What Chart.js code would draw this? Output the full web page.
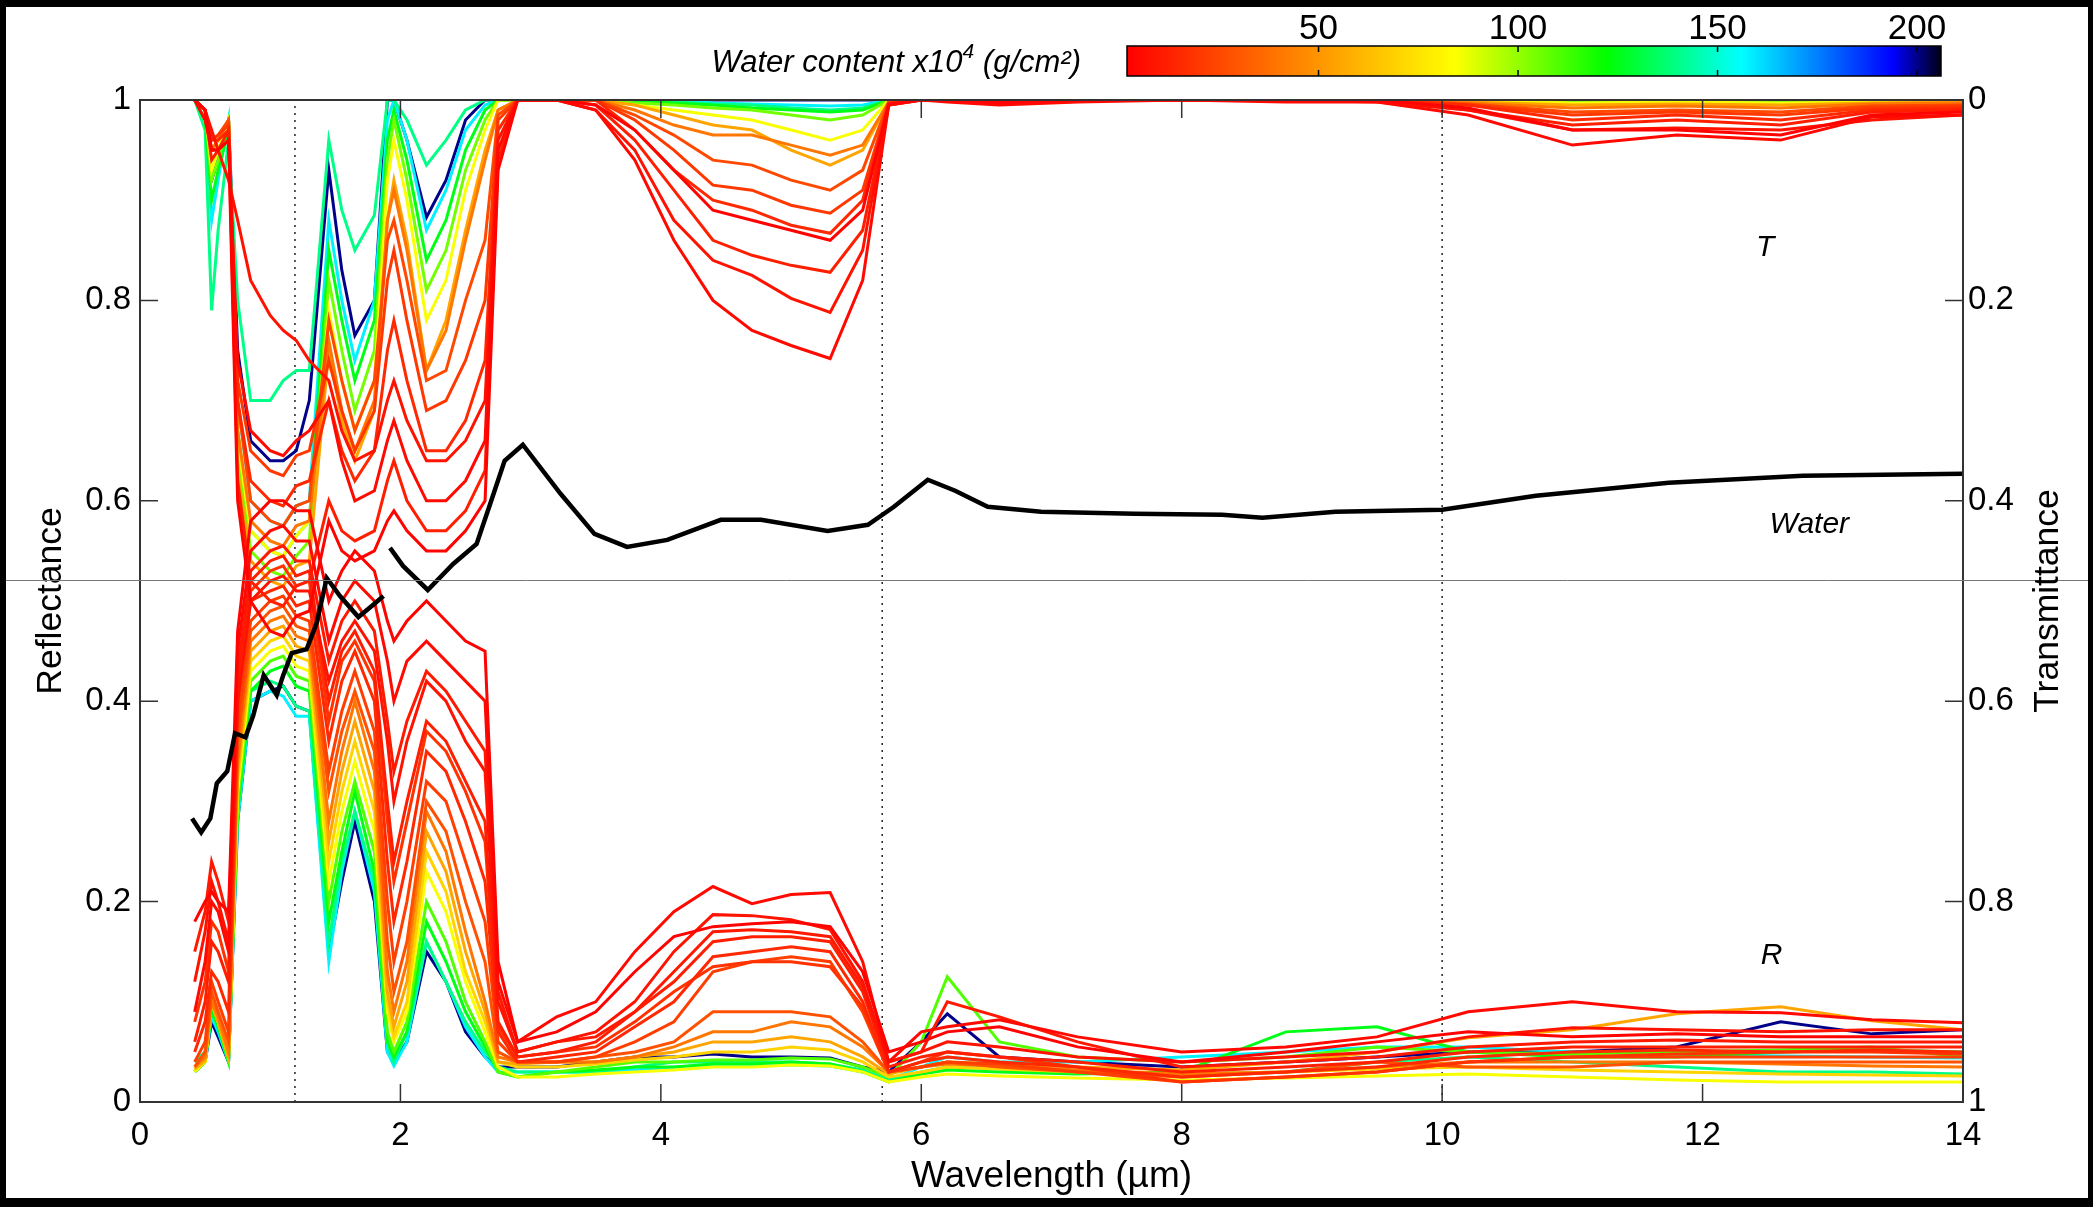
<!DOCTYPE html>
<html>
<head>
<meta charset="utf-8">
<script src="https://cdn.jsdelivr.net/npm/chart.js@4.4.1/dist/chart.umd.min.js"></script>
<style>
  html, body { margin: 0; padding: 0; background: #000; }
  #wrap { width: 2093px; height: 1207px; }
</style>
</head>
<body>
<div id="wrap"><canvas id="chart" width="2093" height="1207"></canvas></div>
<script>
// wavelength grid (µm) shared by all leaf spectra
const wavelength = [0.42, 0.5, 0.55, 0.6, 0.68, 0.75, 0.85, 1.0, 1.1, 1.2,
  1.3, 1.45, 1.55, 1.65, 1.8, 1.9, 1.95, 2.05, 2.2, 2.35,
  2.5, 2.65, 2.75, 2.9, 3.2, 3.5, 3.8, 4.1, 4.4, 4.7,
  5.0, 5.3, 5.55, 5.75, 6.0, 6.2, 6.6, 7.2, 8, 8.8,
  9.5, 10.2, 11, 11.8, 12.6, 13.3, 14];

// reflectance spectra, named by water content (x10^4 g/cm²)
const rW3 = [0.18, 0.20, 0.21, 0.20, 0.19, 0.47, 0.58, 0.60, 0.60, 0.59,
  0.59, 0.50, 0.53, 0.55, 0.53, 0.48, 0.46, 0.48, 0.50, 0.48,
  0.46, 0.45, 0.14, 0.06, 0.07, 0.09, 0.13, 0.165, 0.175, 0.178,
  0.18, 0.175, 0.13, 0.05, 0.06, 0.07, 0.075, 0.055, 0.04, 0.05,
  0.06, 0.07, 0.065, 0.068, 0.065, 0.065, 0.065];
const rW5 = [0.09, 0.14, 0.20, 0.19, 0.15, 0.45, 0.55, 0.57, 0.575, 0.56,
  0.56, 0.46, 0.50, 0.52, 0.50, 0.44, 0.40, 0.44, 0.46, 0.44,
  0.42, 0.40, 0.12, 0.06, 0.085, 0.10, 0.15, 0.19, 0.215, 0.198,
  0.207, 0.209, 0.14, 0.04, 0.07, 0.075, 0.082, 0.065, 0.05, 0.055,
  0.065, 0.09, 0.10, 0.09, 0.089, 0.082, 0.079];
const rW8 = [0.12, 0.17, 0.22, 0.20, 0.16, 0.40, 0.50, 0.52, 0.525, 0.51,
  0.51, 0.42, 0.46, 0.48, 0.45, 0.36, 0.30, 0.36, 0.42, 0.40,
  0.36, 0.33, 0.10, 0.05, 0.06, 0.07, 0.10, 0.15, 0.187, 0.186,
  0.182, 0.172, 0.12, 0.04, 0.05, 0.06, 0.055, 0.045, 0.04, 0.045,
  0.05, 0.065, 0.074, 0.072, 0.07, 0.072, 0.072];
const rW10 = [0.15, 0.19, 0.24, 0.22, 0.18, 0.43, 0.53, 0.55, 0.555, 0.54,
  0.54, 0.44, 0.48, 0.50, 0.47, 0.38, 0.33, 0.38, 0.43, 0.41,
  0.38, 0.35, 0.11, 0.05, 0.06, 0.065, 0.09, 0.13, 0.17, 0.172,
  0.17, 0.165, 0.115, 0.04, 0.05, 0.10, 0.085, 0.06, 0.035, 0.04,
  0.045, 0.055, 0.06, 0.062, 0.06, 0.06, 0.06];
const rW12 = [0.06, 0.10, 0.16, 0.15, 0.12, 0.42, 0.52, 0.54, 0.545, 0.525,
  0.53, 0.40, 0.45, 0.47, 0.43, 0.30, 0.24, 0.30, 0.38, 0.36,
  0.32, 0.28, 0.08, 0.045, 0.05, 0.06, 0.09, 0.12, 0.16, 0.165,
  0.165, 0.16, 0.11, 0.035, 0.045, 0.05, 0.045, 0.04, 0.03, 0.035,
  0.04, 0.05, 0.055, 0.055, 0.055, 0.055, 0.055];
const rW15 = [0.05, 0.08, 0.13, 0.12, 0.09, 0.40, 0.50, 0.51, 0.515, 0.495,
  0.50, 0.36, 0.42, 0.45, 0.40, 0.24, 0.18, 0.24, 0.35, 0.33,
  0.28, 0.22, 0.07, 0.04, 0.045, 0.05, 0.075, 0.10, 0.145, 0.15,
  0.155, 0.15, 0.10, 0.03, 0.04, 0.045, 0.04, 0.035, 0.025, 0.03,
  0.035, 0.045, 0.05, 0.052, 0.05, 0.052, 0.05];
const rW18 = [0.08, 0.12, 0.18, 0.17, 0.13, 0.41, 0.51, 0.53, 0.535, 0.515,
  0.52, 0.38, 0.44, 0.46, 0.42, 0.28, 0.22, 0.28, 0.37, 0.35,
  0.31, 0.26, 0.075, 0.045, 0.05, 0.055, 0.08, 0.11, 0.135, 0.14,
  0.14, 0.135, 0.095, 0.03, 0.04, 0.05, 0.045, 0.035, 0.02, 0.025,
  0.03, 0.04, 0.045, 0.048, 0.05, 0.05, 0.048];
const rW22 = [0.04, 0.06, 0.12, 0.10, 0.07, 0.38, 0.48, 0.50, 0.505, 0.485,
  0.48, 0.33, 0.39, 0.43, 0.37, 0.20, 0.14, 0.20, 0.32, 0.30,
  0.24, 0.18, 0.06, 0.04, 0.04, 0.045, 0.06, 0.08, 0.13, 0.14,
  0.145, 0.14, 0.09, 0.03, 0.035, 0.04, 0.038, 0.03, 0.02, 0.025,
  0.03, 0.04, 0.045, 0.045, 0.045, 0.045, 0.045];
const rW28 = [0.035, 0.05, 0.11, 0.09, 0.06, 0.36, 0.47, 0.49, 0.495, 0.475,
  0.47, 0.31, 0.37, 0.41, 0.35, 0.16, 0.11, 0.16, 0.30, 0.27,
  0.20, 0.14, 0.05, 0.04, 0.04, 0.045, 0.05, 0.06, 0.09, 0.09,
  0.09, 0.085, 0.06, 0.03, 0.035, 0.04, 0.035, 0.03, 0.025, 0.03,
  0.04, 0.035, 0.035, 0.04, 0.04, 0.04, 0.04];
const rW40 = [0.035, 0.045, 0.10, 0.085, 0.05, 0.34, 0.46, 0.48, 0.485, 0.465,
  0.46, 0.28, 0.35, 0.40, 0.33, 0.13, 0.09, 0.14, 0.29, 0.25,
  0.17, 0.10, 0.045, 0.04, 0.04, 0.04, 0.045, 0.055, 0.07, 0.07,
  0.08, 0.075, 0.055, 0.03, 0.035, 0.038, 0.036, 0.032, 0.028, 0.03,
  0.035, 0.04, 0.04, 0.04, 0.038, 0.036, 0.035];
const rW55 = [0.033, 0.042, 0.10, 0.08, 0.045, 0.33, 0.45, 0.47, 0.475, 0.455,
  0.45, 0.26, 0.33, 0.38, 0.31, 0.11, 0.075, 0.12, 0.27, 0.23,
  0.15, 0.09, 0.04, 0.038, 0.04, 0.04, 0.045, 0.05, 0.06, 0.06,
  0.065, 0.06, 0.045, 0.028, 0.035, 0.04, 0.038, 0.035, 0.032, 0.04,
  0.05, 0.064, 0.072, 0.088, 0.095, 0.081, 0.072];
const rW70 = [0.032, 0.04, 0.10, 0.08, 0.045, 0.32, 0.44, 0.46, 0.465, 0.445,
  0.44, 0.24, 0.31, 0.36, 0.29, 0.10, 0.065, 0.10, 0.25, 0.21,
  0.13, 0.08, 0.04, 0.035, 0.035, 0.038, 0.042, 0.045, 0.05, 0.05,
  0.055, 0.052, 0.04, 0.025, 0.03, 0.035, 0.033, 0.03, 0.028, 0.03,
  0.033, 0.035, 0.032, 0.03, 0.028, 0.027, 0.026];
const rW85 = [0.03, 0.04, 0.10, 0.08, 0.045, 0.31, 0.43, 0.45, 0.455, 0.435,
  0.43, 0.22, 0.29, 0.34, 0.27, 0.09, 0.06, 0.09, 0.23, 0.19,
  0.12, 0.07, 0.035, 0.025, 0.025, 0.028, 0.03, 0.032, 0.035, 0.035,
  0.037, 0.036, 0.03, 0.02, 0.025, 0.028, 0.026, 0.024, 0.022, 0.024,
  0.026, 0.028, 0.025, 0.022, 0.02, 0.02, 0.02];
const rW110 = [0.03, 0.04, 0.10, 0.08, 0.042, 0.30, 0.42, 0.44, 0.445, 0.425,
  0.42, 0.20, 0.27, 0.32, 0.25, 0.07, 0.05, 0.08, 0.20, 0.16,
  0.10, 0.06, 0.03, 0.025, 0.03, 0.035, 0.04, 0.04, 0.042, 0.042,
  0.044, 0.043, 0.035, 0.025, 0.06, 0.125, 0.06, 0.045, 0.04, 0.045,
  0.055, 0.05, 0.048, 0.05, 0.052, 0.055, 0.045];
const rW125 = [0.03, 0.04, 0.09, 0.075, 0.04, 0.29, 0.41, 0.43, 0.435, 0.415,
  0.41, 0.18, 0.25, 0.31, 0.23, 0.06, 0.045, 0.07, 0.18, 0.14,
  0.09, 0.055, 0.03, 0.025, 0.03, 0.032, 0.035, 0.035, 0.038, 0.038,
  0.04, 0.038, 0.03, 0.02, 0.028, 0.032, 0.03, 0.028, 0.03, 0.07,
  0.075, 0.05, 0.045, 0.045, 0.05, 0.052, 0.05];
const rW140 = [0.04, 0.05, 0.10, 0.08, 0.045, 0.30, 0.41, 0.42, 0.415, 0.395,
  0.39, 0.16, 0.24, 0.29, 0.22, 0.06, 0.04, 0.07, 0.16, 0.12,
  0.08, 0.05, 0.035, 0.03, 0.03, 0.03, 0.035, 0.04, 0.04, 0.04,
  0.04, 0.038, 0.032, 0.022, 0.03, 0.035, 0.033, 0.03, 0.028, 0.03,
  0.04, 0.045, 0.04, 0.035, 0.03, 0.03, 0.028];
const rW158 = [0.03, 0.04, 0.085, 0.07, 0.04, 0.28, 0.40, 0.41, 0.405, 0.385,
  0.385, 0.14, 0.23, 0.29, 0.21, 0.05, 0.036, 0.06, 0.16, 0.12,
  0.075, 0.045, 0.03, 0.03, 0.03, 0.03, 0.032, 0.035, 0.036, 0.036,
  0.037, 0.036, 0.03, 0.022, 0.035, 0.045, 0.04, 0.04, 0.045, 0.05,
  0.055, 0.055, 0.05, 0.048, 0.046, 0.045, 0.044];
const rW200 = [0.03, 0.04, 0.08, 0.065, 0.04, 0.28, 0.40, 0.41, 0.415, 0.395,
  0.39, 0.15, 0.22, 0.28, 0.20, 0.05, 0.04, 0.06, 0.15, 0.12,
  0.07, 0.045, 0.035, 0.035, 0.035, 0.04, 0.045, 0.045, 0.048, 0.045,
  0.045, 0.044, 0.035, 0.03, 0.06, 0.088, 0.045, 0.04, 0.035, 0.04,
  0.045, 0.05, 0.05, 0.055, 0.08, 0.068, 0.072];

// transmittance spectra
const tW3 = [0, 0.01, 0.05, 0.05, 0.04, 0.40, 0.50, 0.53, 0.535, 0.515,
  0.51, 0.42, 0.45, 0.46, 0.45, 0.42, 0.41, 0.43, 0.45, 0.45,
  0.43, 0.40, 0.07, 0, 0, 0.005, 0.03, 0.07, 0.11, 0.12,
  0.13, 0.14, 0.11, 0.004, 0, 0, 0.002, 0, 0, 0,
  0, 0.008, 0.03, 0.03, 0.035, 0.015, 0.012];
const tW5 = [0, 0.02, 0.05, 0.05, 0.04, 0.26, 0.33, 0.35, 0.355, 0.34,
  0.33, 0.30, 0.36, 0.40, 0.39, 0.34, 0.32, 0.36, 0.40, 0.40,
  0.38, 0.34, 0.05, 0, 0, 0.01, 0.06, 0.14, 0.20, 0.23,
  0.245, 0.258, 0.18, 0.005, 0, 0.002, 0.005, 0.002, 0, 0.002,
  0.002, 0.015, 0.045, 0.035, 0.04, 0.017, 0.015];
const tW8 = [0, 0.01, 0.03, 0.05, 0.08, 0.12, 0.18, 0.215, 0.23, 0.24,
  0.26, 0.28, 0.33, 0.36, 0.35, 0.30, 0.28, 0.32, 0.36, 0.36,
  0.34, 0.30, 0.04, 0, 0, 0.01, 0.05, 0.12, 0.16, 0.175,
  0.198, 0.212, 0.15, 0.005, 0, 0, 0.003, 0, 0, 0,
  0.002, 0.01, 0.03, 0.028, 0.03, 0.02, 0.015];
const tW12 = [0, 0.01, 0.06, 0.05, 0.03, 0.38, 0.48, 0.50, 0.505, 0.485,
  0.48, 0.40, 0.43, 0.44, 0.43, 0.38, 0.36, 0.40, 0.43, 0.43,
  0.41, 0.37, 0.06, 0, 0, 0.005, 0.04, 0.09, 0.14, 0.155,
  0.165, 0.172, 0.13, 0.005, 0, 0, 0.002, 0, 0, 0,
  0, 0.01, 0.025, 0.02, 0.025, 0.012, 0.01];
const tW15 = [0, 0.01, 0.04, 0.04, 0.03, 0.30, 0.38, 0.40, 0.405, 0.385,
  0.38, 0.30, 0.35, 0.38, 0.35, 0.25, 0.22, 0.28, 0.35, 0.35,
  0.32, 0.26, 0.03, 0, 0, 0, 0.03, 0.07, 0.10, 0.11,
  0.125, 0.133, 0.10, 0.003, 0, 0, 0, 0, 0, 0,
  0, 0.005, 0.02, 0.015, 0.02, 0.01, 0.008];
const tW20 = [0, 0.01, 0.04, 0.035, 0.025, 0.28, 0.35, 0.37, 0.375, 0.355,
  0.35, 0.26, 0.31, 0.35, 0.31, 0.18, 0.15, 0.22, 0.31, 0.30,
  0.26, 0.20, 0.02, 0, 0, 0, 0.02, 0.05, 0.085, 0.09,
  0.105, 0.113, 0.09, 0.003, 0, 0, 0, 0, 0, 0,
  0, 0.005, 0.015, 0.012, 0.015, 0.008, 0.006];
const tW25 = [0, 0.01, 0.04, 0.035, 0.02, 0.30, 0.40, 0.42, 0.425, 0.405,
  0.40, 0.22, 0.28, 0.33, 0.28, 0.14, 0.12, 0.18, 0.28, 0.27,
  0.20, 0.14, 0.015, 0, 0, 0, 0.015, 0.035, 0.06, 0.065,
  0.08, 0.09, 0.07, 0.002, 0, 0, 0, 0, 0, 0,
  0, 0.004, 0.012, 0.01, 0.012, 0.006, 0.005];
const tW40 = [0, 0.01, 0.05, 0.04, 0.02, 0.33, 0.42, 0.44, 0.445, 0.425,
  0.42, 0.24, 0.31, 0.35, 0.30, 0.12, 0.09, 0.15, 0.27, 0.23,
  0.14, 0.06, 0.01, 0, 0, 0, 0.01, 0.025, 0.035, 0.035,
  0.045, 0.055, 0.045, 0.002, 0, 0, 0, 0, 0, 0,
  0, 0.003, 0.008, 0.006, 0.008, 0.004, 0.003];
const tW55 = [0, 0.01, 0.05, 0.04, 0.02, 0.37, 0.46, 0.48, 0.485, 0.465,
  0.46, 0.25, 0.32, 0.36, 0.31, 0.12, 0.08, 0.14, 0.27, 0.22,
  0.13, 0.05, 0.01, 0, 0, 0, 0.005, 0.015, 0.025, 0.03,
  0.05, 0.065, 0.05, 0.002, 0, 0, 0, 0, 0, 0,
  0, 0.002, 0.005, 0.004, 0.005, 0.003, 0.002];
const tW85 = [0, 0.01, 0.07, 0.05, 0.02, 0.34, 0.43, 0.45, 0.455, 0.435,
  0.42, 0.21, 0.28, 0.33, 0.28, 0.08, 0.04, 0.10, 0.22, 0.18,
  0.09, 0.03, 0, 0, 0, 0, 0.005, 0.01, 0.015, 0.02,
  0.03, 0.04, 0.03, 0, 0, 0, 0, 0, 0, 0,
  0, 0, 0.003, 0.002, 0.003, 0.002, 0.002];
const tW105 = [0, 0.01, 0.08, 0.06, 0.02, 0.35, 0.45, 0.47, 0.475, 0.455,
  0.44, 0.18, 0.25, 0.31, 0.25, 0.06, 0.02, 0.08, 0.19, 0.15,
  0.07, 0.02, 0, 0, 0, 0, 0.003, 0.005, 0.008, 0.01,
  0.015, 0.02, 0.015, 0, 0, 0, 0, 0, 0, 0,
  0, 0, 0, 0, 0, 0, 0];
const tW125 = [0, 0.02, 0.10, 0.07, 0.03, 0.33, 0.43, 0.45, 0.455, 0.435,
  0.42, 0.15, 0.22, 0.28, 0.22, 0.04, 0.01, 0.06, 0.16, 0.12,
  0.05, 0.01, 0, 0, 0, 0, 0, 0.003, 0.005, 0.008,
  0.01, 0.012, 0.01, 0, 0, 0, 0, 0, 0, 0,
  0, 0, 0, 0, 0, 0, 0];
const tW140 = [0, 0.03, 0.21, 0.13, 0.04, 0.20, 0.30, 0.30, 0.28, 0.27,
  0.27, 0.04, 0.11, 0.15, 0.115, 0, 0, 0.02, 0.065, 0.04,
  0.01, 0, 0, 0, 0, 0, 0, 0.002, 0.004, 0.005,
  0.008, 0.01, 0.008, 0, 0, 0, 0, 0, 0, 0,
  0, 0, 0, 0, 0, 0, 0];
const tW158 = [0, 0.01, 0.12, 0.08, 0.02, 0.30, 0.40, 0.42, 0.425, 0.405,
  0.40, 0.12, 0.20, 0.26, 0.20, 0.02, 0, 0.04, 0.13, 0.09,
  0.03, 0.005, 0, 0, 0, 0, 0, 0, 0.003, 0.004,
  0.005, 0.006, 0.005, 0, 0, 0, 0, 0, 0, 0,
  0, 0, 0, 0, 0, 0, 0];
const tW200 = [0, 0.01, 0.08, 0.06, 0.02, 0.25, 0.34, 0.36, 0.36, 0.35,
  0.30, 0.07, 0.17, 0.235, 0.20, 0, 0, 0.04, 0.117, 0.08,
  0.02, 0, 0, 0, 0, 0, 0, 0, 0, 0,
  0, 0, 0, 0, 0, 0, 0, 0, 0, 0,
  0, 0, 0, 0, 0, 0.002, 0.004];

// lists in drawing priority (first = on top)
const reflWater = [3, 5, 8, 10, 12, 15, 18, 22, 28, 40, 55, 70, 85, 110, 125, 140, 158, 200];
const reflSpectra = [rW3, rW5, rW8, rW10, rW12, rW15, rW18, rW22, rW28, rW40, rW55, rW70, rW85, rW110, rW125, rW140, rW158, rW200];
const transWater = [3, 5, 8, 12, 15, 20, 25, 40, 55, 85, 105, 125, 140, 158, 200];
const transSpectra = [tW3, tW5, tW8, tW12, tW15, tW20, tW25, tW40, tW55, tW85, tW105, tW125, tW140, tW158, tW200];

// water curve (black)
const waterX = [0.40, 0.47, 0.54, 0.59, 0.67, 0.73, 0.81, 0.87, 0.95, 1.05, 1.10, 1.165, 1.28, 1.357, 1.434, 1.536, 1.677, 1.78, 1.87,
  1.895, 1.92, 2.02, 2.21, 2.405, 2.585, 2.70, 2.8, 2.94, 3.23, 3.49, 3.74, 4.05, 4.46, 4.77, 5.28, 5.59, 5.79,
  6.05, 6.26, 6.51, 6.92, 7.64, 8.31, 8.62, 9.18, 10.0, 10.72, 11.74, 12.77, 14.0];
const waterY = [0.283, 0.269, 0.283, 0.318, 0.330, 0.368, 0.364, 0.386, 0.426, 0.406, 0.426, 0.448, 0.452, 0.478, 0.523, 0.505, 0.484, 0.495, 0.505,
  null, 0.553, 0.535, 0.511, 0.537, 0.557, 0.601, 0.64, 0.656, 0.607, 0.567, 0.554, 0.561, 0.581, 0.581, 0.570, 0.576, 0.594,
  0.621, 0.610, 0.594, 0.589, 0.587, 0.586, 0.583, 0.589, 0.591, 0.605, 0.618, 0.625, 0.627];

const markerWavelengths = [1.19, 5.7, 10];
const dividerLevel = 0.521;
const cbarRange = [2, 206];
const cbarTicks = [50, 100, 150, 200];
const cbarStops = [[2, [255, 0, 0]], [84, [255, 255, 0]], [122, [0, 255, 0]], [156, [0, 255, 255]], [194, [0, 0, 255]], [206, [0, 0, 20]]];

const FONT = "'Liberation Sans', Arial, Helvetica, sans-serif";

function cmap(v) {
  for (let i = 1; i < cbarStops.length; i++) {
    const [v0, c0] = cbarStops[i - 1];
    const [v1, c1] = cbarStops[i];
    if (v <= v1) {
      const f = Math.max(0, (v - v0) / (v1 - v0));
      const c = c0.map((a, k) => Math.round(a + (c1[k] - a) * f));
      return `rgb(${c[0]},${c[1]},${c[2]})`;
    }
  }
  return 'rgb(0,0,20)';
}

function toPoints(xs, ys) {
  return xs.map((x, i) => ({ x: x, y: ys[i] }));
}

const datasets = [];
datasets.push({
  data: toPoints(waterX, waterY), yAxisID: 'y',
  borderColor: '#000', borderWidth: 4.5, spanGaps: false
});
// interleave R and T so the dry (red) ones end up on top
const nMax = Math.max(reflSpectra.length, transSpectra.length);
for (let i = 0; i < nMax; i++) {
  if (i < reflSpectra.length) {
    datasets.push({ data: toPoints(wavelength, reflSpectra[i]), yAxisID: 'y', borderColor: cmap(reflWater[i]), borderWidth: 3 });
  }
  if (i < transSpectra.length) {
    datasets.push({ data: toPoints(wavelength, transSpectra[i]), yAxisID: 'y2', borderColor: cmap(transWater[i]), borderWidth: 3 });
  }
}
markerWavelengths.forEach(w => {
  datasets.push({
    data: [{ x: w, y: 0 }, { x: w, y: 1 }], yAxisID: 'y',
    borderColor: '#222', borderWidth: 1.5, borderDash: [2, 5]
  });
});

const figurePlugin = {
  id: 'figure',
  beforeDraw(chart) {
    const ctx = chart.ctx;
    ctx.save();
    ctx.fillStyle = '#000';
    ctx.fillRect(0, 0, chart.width, chart.height);
    ctx.fillStyle = '#fff';
    ctx.fillRect(6, 7, 2082, 1191);
    ctx.restore();
  },
  afterDraw(chart) {
    const { ctx, chartArea: a, scales } = chart;
    const xs = scales.x, ys = scales.y, y2 = scales.y2;
    ctx.save();

    // axes box + inward ticks
    ctx.strokeStyle = '#333';
    ctx.lineWidth = 2;
    ctx.strokeRect(a.left, a.top, a.right - a.left, a.bottom - a.top);
    ctx.lineWidth = 1.5;
    ctx.beginPath();
    xs.ticks.forEach(t => {
      const px = xs.getPixelForValue(t.value);
      ctx.moveTo(px, a.bottom); ctx.lineTo(px, a.bottom - 18);
      ctx.moveTo(px, a.top); ctx.lineTo(px, a.top + 18);
    });
    ys.ticks.forEach(t => {
      const py = ys.getPixelForValue(t.value);
      ctx.moveTo(a.left, py); ctx.lineTo(a.left + 18, py);
    });
    y2.ticks.forEach(t => {
      const py = y2.getPixelForValue(t.value);
      ctx.moveTo(a.right, py); ctx.lineTo(a.right - 18, py);
    });
    ctx.stroke();

    // thin grey divider across the figure
    const yd = Math.round(ys.getPixelForValue(dividerLevel)) + 0.5;
    ctx.strokeStyle = '#777';
    ctx.lineWidth = 1;
    ctx.beginPath();
    ctx.moveTo(6, yd); ctx.lineTo(2088, yd);
    ctx.stroke();

    // curve labels
    ctx.fillStyle = '#000';
    ctx.font = 'italic 30px ' + FONT;
    ctx.textAlign = 'center';
    ctx.textBaseline = 'middle';
    ctx.fillText('T', xs.getPixelForValue(12.48), ys.getPixelForValue(0.853));
    ctx.fillText('Water', xs.getPixelForValue(12.82), ys.getPixelForValue(0.576));
    ctx.fillText('R', xs.getPixelForValue(12.53), ys.getPixelForValue(0.146));

    // right axis title, reading upwards
    ctx.save();
    ctx.translate(2048, (a.top + a.bottom) / 2);
    ctx.rotate(-Math.PI / 2);
    ctx.font = '35.5px ' + FONT;
    ctx.fillText('Transmittance', 0, 0);
    ctx.restore();

    // colour bar
    const cbL = 1127, cbR = 1941, cbT = 46, cbB = 76;
    const span = cbarRange[1] - cbarRange[0];
    const grad = ctx.createLinearGradient(cbL, 0, cbR, 0);
    cbarStops.forEach(([v, c]) => grad.addColorStop((v - cbarRange[0]) / span, `rgb(${c[0]},${c[1]},${c[2]})`));
    ctx.fillStyle = grad;
    ctx.fillRect(cbL, cbT, cbR - cbL, cbB - cbT);
    ctx.strokeStyle = '#000';
    ctx.lineWidth = 1.5;
    ctx.strokeRect(cbL, cbT, cbR - cbL, cbB - cbT);
    ctx.beginPath();
    ctx.fillStyle = '#000';
    ctx.font = '35px ' + FONT;
    ctx.textAlign = 'center';
    ctx.textBaseline = 'middle';
    cbarTicks.forEach(v => {
      const px = cbL + (v - cbarRange[0]) / span * (cbR - cbL);
      ctx.moveTo(px, cbT); ctx.lineTo(px, cbT + 6);
      ctx.moveTo(px, cbB); ctx.lineTo(px, cbB - 6);
      ctx.fillText(String(v), px, 29);
    });
    ctx.stroke();

    // colour bar caption with superscript
    ctx.textAlign = 'left';
    ctx.textBaseline = 'alphabetic';
    const mainFont = 'italic 31px ' + FONT, supFont = 'italic 21px ' + FONT;
    const p1 = 'Water content x10', p2 = '4', p3 = ' (g/cm²)';
    ctx.font = mainFont; const w1 = ctx.measureText(p1).width, w3 = ctx.measureText(p3).width;
    ctx.font = supFont; const w2 = ctx.measureText(p2).width;
    let cx = 1081 - (w1 + w2 + w3);
    ctx.font = mainFont; ctx.fillText(p1, cx, 72); cx += w1;
    ctx.font = supFont; ctx.fillText(p2, cx, 58); cx += w2;
    ctx.font = mainFont; ctx.fillText(p3, cx, 72);

    ctx.restore();
  }
};

Chart.defaults.font.family = FONT;
Chart.defaults.color = '#000';

new Chart(document.getElementById('chart'), {
  type: 'line',
  data: { datasets: datasets },
  options: {
    responsive: false,
    animation: false,
    devicePixelRatio: 1,
    layout: { padding: { top: 100, left: 0, right: 0, bottom: 0 } },
    elements: { point: { radius: 0 }, line: { tension: 0, fill: false } },
    plugins: { legend: { display: false }, tooltip: { enabled: false } },
    scales: {
      x: {
        type: 'linear', min: 0, max: 14,
        grid: { display: false, drawTicks: false }, border: { display: false },
        ticks: { stepSize: 2, padding: 14, font: { size: 33 }, maxRotation: 0 },
        title: { display: true, text: 'Wavelength (µm)', font: { size: 37 }, padding: { top: 0, bottom: 8 } },
        afterFit(s) { s.height = 105; }
      },
      y: {
        type: 'linear', position: 'left', min: 0, max: 1,
        grid: { display: false, drawTicks: false }, border: { display: false },
        ticks: { stepSize: 0.2, padding: 9, font: { size: 33 }, callback: v => String(+v.toFixed(1)) },
        title: { display: true, text: 'Reflectance', font: { size: 35.5 }, padding: { top: 30, bottom: 0 } },
        afterFit(s) { s.width = 140; }
      },
      y2: {
        type: 'linear', position: 'right', min: 0, max: 1, reverse: true,
        grid: { display: false, drawTicks: false }, border: { display: false },
        ticks: { stepSize: 0.2, padding: 5, font: { size: 33 }, callback: v => String(+v.toFixed(1)) },
        afterFit(s) { s.width = 130; }
      }
    }
  },
  plugins: [figurePlugin]
});
</script>
</body>
</html>
